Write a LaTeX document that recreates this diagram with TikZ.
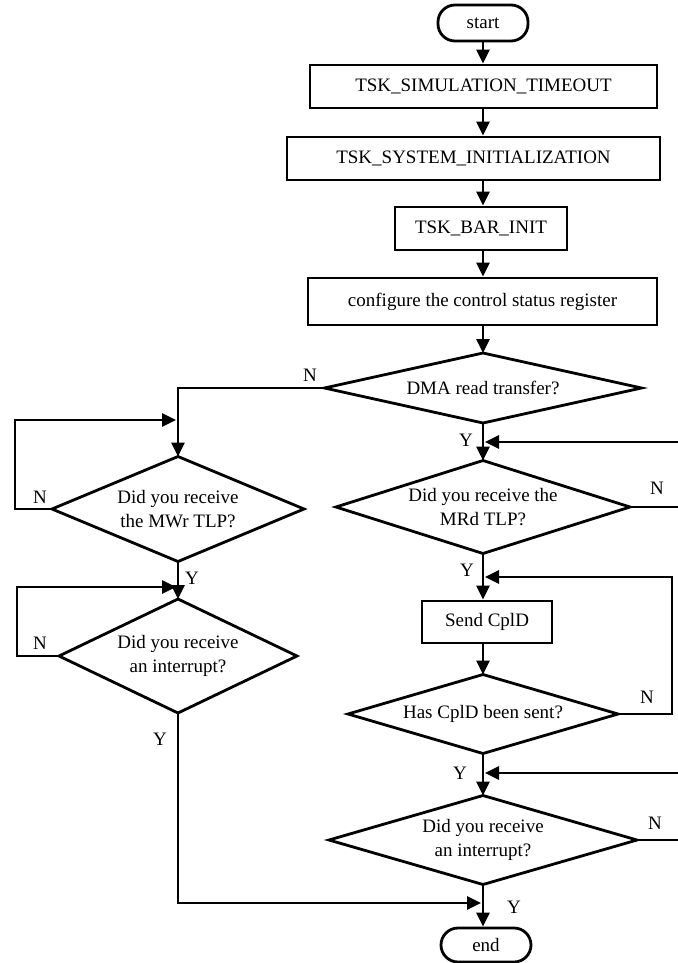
\documentclass[tikz,border=0pt]{standalone}
\usepackage{fontspec}
\setmainfont{Liberation Serif}
\usetikzlibrary{shapes.geometric,arrows.meta}
\begin{document}
\begin{tikzpicture}[x=1pt,y=-1pt,
  line width=2.8pt,
  every node/.style={font=\fontsize{19}{24}\selectfont},
  proc/.style={draw, rectangle, inner sep=0pt},
  term/.style={draw, rectangle, rounded corners=17pt, inner sep=0pt,
    minimum width=90pt, minimum height=36pt},
  decision/.style={draw, diamond, inner sep=0pt, outer sep=0pt},
  dtext/.style={align=center, inner sep=0pt},
  lab/.style={inner sep=0pt},
  flow/.style={-{Triangle[length=14pt,width=13pt]}}
]
\path[use as bounding box, fill=white] (0,0) rectangle (677,963);

% main column
\node[term] (start) at (483,23) {start};
\node[proc, minimum width=347pt, minimum height=43pt] (sim) at (483.5,86.5) {TSK\_SIMULATION\_TIMEOUT};
\node[proc, minimum width=373pt, minimum height=43pt] (sys) at (473.5,158.5) {TSK\_SYSTEM\_INITIALIZATION};
\node[proc, minimum width=172pt, minimum height=43pt] (bar) at (481,228.5) {TSK\_BAR\_INIT};
\node[proc, minimum width=349pt, minimum height=47pt] (cfg) at (482.5,301.5) {configure the control status register};

\node[decision, minimum width=317pt, minimum height=70pt] (dma) at (483,388) {};
\node[dtext] (dma-t) at (dma) {DMA read transfer?};

\node[decision, minimum width=294pt, minimum height=93pt] (mrd) at (483,507) {};
\node[dtext] (mrd-t) at (mrd) {Did you receive the\\MRd TLP?};

\node[proc, minimum width=130pt, minimum height=42pt] (send) at (487,622) {Send CplD};

\node[decision, minimum width=270pt, minimum height=79pt] (has) at (483,714) {};
\node[dtext] (has-t) at (has) {Has CplD been sent?};

\node[decision, minimum width=308pt, minimum height=89pt] (intR) at (483,840) {};
\node[dtext] (intR-t) at (intR) {Did you receive\\an interrupt?};

\node[term, minimum height=34pt] (end) at (486,945) {end};

% left column
\node[decision, minimum width=252pt, minimum height=105pt] (mwr) at (178,509) {};
\node[dtext] (mwr-t) at (mwr) {Did you receive\\the MWr TLP?};

\node[decision, minimum width=238pt, minimum height=114pt] (intL) at (178,656) {};
\node[dtext] (intL-t) at (intL) {Did you receive\\an interrupt?};

% junction points where loops rejoin the flow
\coordinate (j1) at (176,420);
\coordinate (j2) at (176,587);
\coordinate (j3) at (485,442);
\coordinate (j4) at (485,577);
\coordinate (j5) at (481,903);
\coordinate (j6) at (485,773);

% straight flow
\draw[flow] (start.south) -- (start.south |- sim.north);
\draw[flow] (sim.south -| start) -- (sys.north -| start);
\draw[flow] (sys.south -| start) -- (bar.north -| start);
\draw[flow] (bar.south -| start) -- (cfg.north -| start);
\draw[flow] (cfg.south -| start) -- (dma.north);
\draw[flow] (dma.south) -- (mrd.north);
\draw[flow] (mrd.south) -- (mrd.south |- send.north);
\draw[flow] (send.south -| mrd.south) -- (has.north);
\draw[flow] (has.south) -- (intR.north);
\draw[flow] (intR.south) -- (intR.south |- end.north);

% branches and loops
\draw[flow] (dma.west) -| (mwr.north);
\draw[flow] (mwr.south) -- (intL.north);
\draw[flow] (mwr.west) -- ++(-37,0) |- (j1);
\draw[flow] (intL.west) -- ++(-42,0) |- (j2);
\draw[flow] (intL.south) |- (j5);
\draw[flow] (mrd.east) -- ++(62,0) |- (j3);
\draw[flow] (has.east) -- ++(54,0) |- (j4);
\draw[flow] (intR.east) -- ++(58,0) |- (j6);

% branch labels
\node[lab] (dma-n) at (310,375) {N};
\node[lab] (dma-y) at (466,440) {Y};
\node[lab] (mwr-n) at (40,497) {N};
\node[lab] (mwr-y) at (192,578) {Y};
\node[lab] (intL-n) at (40,643) {N};
\node[lab] (intL-y) at (160,739) {Y};
\node[lab] (mrd-n) at (657,488) {N};
\node[lab] (mrd-y) at (467,570) {Y};
\node[lab] (has-n) at (647,697) {N};
\node[lab] (has-y) at (460,773) {Y};
\node[lab] (intR-n) at (655,823) {N};
\node[lab] (intR-y) at (514,907) {Y};
\end{tikzpicture}
\end{document}
